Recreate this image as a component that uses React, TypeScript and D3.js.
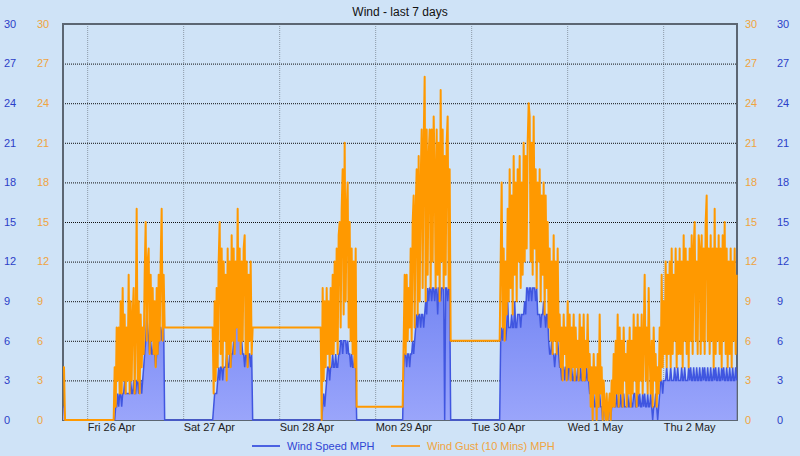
import React from "react";
import * as d3 from "d3";

// readings are archived every 15 minutes; each run below starts at its own time
const STEP_MIN = 15;

const yTicks = [0, 3, 6, 9, 12, 15, 18, 21, 24, 27, 30];
const dayTicks = ["2024-04-26", "2024-04-27", "2024-04-28", "2024-04-29", "2024-04-30", "2024-05-01", "2024-05-02"];
const dayLabels = ["Fri 26 Apr", "Sat 27 Apr", "Sun 28 Apr", "Mon 29 Apr", "Tue 30 Apr", "Wed 1 May", "Thu 2 May"];

// Thu evening, just before the station went quiet
const thuGust = [4, 4, 0];
const thuSpeed = [1, 1, 0];

// Fri 06:30 -> 19:15
const friGust = [
  0, 4, 1, 7, 3, 7, 2, 9, 2, 10,
  3, 8, 2, 7, 3, 11, 2, 9, 3, 8,
  10, 2, 7, 16, 3, 9, 2, 8, 4, 7,
  5, 11, 15, 6, 12, 13, 5, 11, 6, 10,
  5, 9, 4, 10, 5, 11, 6, 12, 16, 6,
  11, 7,
];
const friSpeed = [
  0, 0, 1, 1, 2, 1, 2, 2, 1, 2,
  2, 3, 2, 2, 2, 2, 2, 3, 2, 2,
  3, 2, 2, 3, 3, 2, 3, 3, 2, 3,
  4, 5, 6, 8, 7, 6, 5, 6, 5, 5,
  6, 5, 4, 5, 5, 6, 7, 7, 6, 7,
  7, 0,
];

// Sat 07:15 -> 17:15
const satGust = [
  7, 2, 9, 3, 10, 4, 12, 15, 5, 13,
  4, 12, 6, 11, 3, 13, 5, 12, 4, 14,
  6, 13, 5, 12, 7, 16, 6, 13, 5, 12,
  6, 13, 14, 5, 12, 4, 11, 6, 12, 5,
  7,
];
const satSpeed = [
  0, 1, 2, 2, 2, 3, 4, 3, 4, 4,
  3, 4, 4, 4, 5, 4, 4, 5, 4, 5,
  5, 6, 7, 7, 8, 8, 7, 8, 7, 6,
  5, 5, 4, 5, 5, 4, 5, 5, 4, 5,
  0,
];

// Sun 10:15 -> 19:15
const sunGust = [
  7, 0, 10, 3, 9, 4, 10, 5, 9, 4,
  10, 5, 11, 5, 12, 6, 13, 5, 14, 15,
  7, 16, 19, 8, 21, 9, 16, 18, 7, 15,
  6, 13, 5, 12, 4, 13, 1,
];
const sunSpeed = [
  0, 0, 1, 2, 1, 2, 3, 4, 4, 3,
  4, 4, 5, 4, 4, 5, 4, 4, 5, 5,
  6, 6, 5, 6, 6, 6, 5, 6, 5, 5,
  4, 5, 4, 4, 5, 4, 0,
];

// Mon 06:45 -> 18:45
const monGust = [
  1, 6, 11, 5, 11, 6, 10, 7, 13, 6,
  15, 17, 7, 16, 19, 8, 20, 9, 18, 22,
  10, 21, 26, 9, 22, 11, 20, 22, 10, 22,
  12, 23, 19, 10, 22, 11, 21, 9, 25, 12,
  22, 10, 20, 11, 21, 23, 10, 19, 6,
];
const monSpeed = [
  0, 4, 5, 5, 4, 5, 5, 4, 5, 5,
  6, 5, 6, 7, 8, 7, 8, 8, 7, 8,
  8, 7, 8, 9, 8, 10, 9, 10, 10, 9,
  10, 10, 9, 10, 10, 8, 10, 10, 9, 10,
  10, 10, 0, 10, 10, 9, 10, 10, 0,
];

// Tue 07:00 -> Thu 18:15, no gap
const tueGust = [
  6, 12, 18, 7, 13, 6, 12, 8, 16, 9,
  19, 10, 17, 8, 20, 11, 18, 9, 19, 12,
  20, 10, 18, 11, 21, 12, 20, 13, 21, 24,
  23, 12, 21, 11, 23, 13, 19, 10, 18, 12,
  19, 9, 17, 11, 18, 8, 17, 10, 15, 7,
  13, 6, 12, 5, 14, 6, 12, 5, 13, 6,
  8, 4, 7, 3, 8, 5, 7, 3, 9, 4,
  8, 3, 7, 4, 8, 3, 7, 4, 6, 3,
  8, 4, 7, 3, 8, 3, 6, 4, 8, 3,
  5, 1, 4, 0, 5, 2, 4, 0, 5, 1,
  8, 2, 4, 0, 3, 1, 0, 2, 0, 1,
  2, 0, 3, 1, 5, 1, 6, 2, 8, 1,
  7, 2, 6, 1, 7, 3, 5, 1, 6, 2,
  7, 1, 6, 2, 8, 3, 7, 1, 8, 2,
  7, 3, 8, 2, 6, 11, 3, 7, 2, 10,
  5, 2, 6, 1, 7, 3, 5, 1, 4, 2,
  7, 3, 11, 4, 9, 5, 12, 4, 11, 5,
  12, 4, 13, 5, 11, 6, 13, 4, 12, 5,
  13, 5, 12, 4, 14, 6, 13, 5, 12, 4,
  13, 6, 14, 5, 13, 15, 6, 12, 5, 14,
  13, 5, 14, 6, 13, 5, 15, 17, 6, 13,
  5, 14, 6, 13, 4, 16, 5, 13, 6, 14,
  5, 13, 4, 14, 6, 15, 5, 13, 4, 12,
  5, 13, 4, 12, 6, 13, 5, 11,
];
const tueSpeed = [
  0, 6, 7, 6, 7, 7, 6, 7, 9, 7,
  7, 7, 8, 7, 7, 9, 7, 7, 8, 8,
  8, 7, 8, 8, 8, 9, 8, 10, 10, 9,
  10, 10, 9, 10, 10, 10, 9, 10, 8, 8,
  8, 7, 8, 8, 9, 8, 7, 8, 8, 6,
  5, 5, 6, 5, 5, 4, 5, 5, 6, 5,
  4, 4, 3, 4, 4, 3, 4, 4, 3, 4,
  4, 3, 4, 3, 3, 4, 3, 3, 4, 3,
  3, 4, 3, 3, 4, 3, 3, 4, 3, 3,
  2, 2, 1, 2, 2, 1, 1, 2, 1, 1,
  2, 1, 1, 0, 1, 1, 0, 1, 0, 1,
  1, 0, 1, 1, 2, 1, 1, 2, 1, 1,
  1, 2, 1, 1, 2, 1, 1, 1, 2, 1,
  1, 2, 1, 1, 2, 2, 1, 1, 2, 1,
  2, 1, 1, 2, 1, 2, 1, 1, 2, 1,
  1, 2, 1, 0, 1, 1, 2, 1, 0, 1,
  2, 3, 3, 2, 3, 3, 3, 4, 3, 3,
  3, 4, 3, 3, 3, 4, 3, 3, 4, 3,
  3, 3, 4, 3, 3, 4, 3, 3, 3, 4,
  3, 4, 3, 3, 4, 3, 3, 4, 3, 3,
  4, 3, 3, 4, 3, 4, 3, 3, 4, 3,
  3, 4, 3, 3, 4, 3, 4, 3, 3, 4,
  3, 3, 4, 3, 4, 3, 3, 4, 3, 3,
  4, 3, 3, 4, 3, 3, 4, 3,
];

const runs = [
  { start: "2024-04-25T17:50", gust: thuGust, speed: thuSpeed },
  { start: "2024-04-26T06:30", gust: friGust, speed: friSpeed },
  { start: "2024-04-27T07:15", gust: satGust, speed: satSpeed },
  { start: "2024-04-28T10:15", gust: sunGust, speed: sunSpeed },
  { start: "2024-04-29T06:45", gust: monGust, speed: monSpeed },
  { start: "2024-04-30T07:00", gust: tueGust, speed: tueSpeed },
];

type Reading = { t: Date; gust: number; speed: number };

const readings: Reading[] = runs.flatMap((run) => {
  const t0 = new Date(run.start).getTime();
  return run.gust.map((g, i) => ({
    t: new Date(t0 + i * STEP_MIN * 60000),
    gust: g,
    speed: run.speed[i],
  }));
});

const FONT = "'Liberation Sans', Arial, Helvetica, sans-serif";
const BLUE_TEXT = "#2c40c8";
const ORANGE_TEXT = "#f0a440";

export default function App() {
  const W = 800;
  const H = 456;
  const left = 63, right = 737, top = 24, bottom = 420;

  const x = d3
    .scaleTime()
    .domain([new Date("2024-04-25T17:50"), new Date("2024-05-02T18:20")])
    .range([left, right]);
  const y = d3.scaleLinear().domain([0, 30]).range([bottom, top]);

  const speedArea = d3
    .area<Reading>()
    .x((d) => x(d.t))
    .y0(y(0))
    .y1((d) => y(d.speed));
  const speedLine = d3
    .line<Reading>()
    .x((d) => x(d.t))
    .y((d) => y(d.speed));
  const gustLine = d3
    .line<Reading>()
    .x((d) => x(d.t))
    .y((d) => y(d.gust));

  const days = dayTicks.map((d) => new Date(d + "T00:00"));

  return (
    <svg
      width={W}
      height={H}
      style={{ position: "fixed", left: 0, top: 0, fontFamily: FONT }}
    >
      <defs>
        <linearGradient id="speedFill" gradientUnits="userSpaceOnUse" x1="0" y1={y(10)} x2="0" y2={y(0)}>
          <stop offset="0" stopColor="#7486f3" />
          <stop offset="1" stopColor="#9aa5fb" />
        </linearGradient>
      </defs>
      <rect width={W} height={H} fill="#cfe3f7" />

      <text x={W / 2} y={16} textAnchor="middle" fontSize={12} fill="#111">
        Wind - last 7 days
      </text>

      {/* grid */}
      {days.map((d, i) => (
        <line
          key={"v" + i}
          x1={x(d)}
          x2={x(d)}
          y1={top}
          y2={bottom}
          stroke="#8d9aa8"
          strokeDasharray="1 1"
        />
      ))}
      {yTicks.slice(1, -1).map((v) => (
        <line
          key={"h" + v}
          x1={left}
          x2={right}
          y1={y(v) + 0.5}
          y2={y(v) + 0.5}
          stroke="#111"
          strokeDasharray="1 1"
        />
      ))}

      <rect
        x={left}
        y={top}
        width={right - left}
        height={bottom - top}
        fill="none"
        stroke="#5c6672"
        strokeWidth={2}
      />

      {/* wind speed */}
      <path d={speedArea(readings) ?? ""} fill="url(#speedFill)" />
      <path d={speedLine(readings) ?? ""} fill="none" stroke="#4056e0" strokeWidth={1.5} />

      {/* gusts */}
      <path
        d={gustLine(readings) ?? ""}
        fill="none"
        stroke="#ff9900"
        strokeWidth={2}
        strokeLinejoin="round"
      />

      {/* y labels, both sides */}
      {yTicks.map((v) => (
        <g key={"y" + v} fontSize={11}>
          <text x={4} y={y(v)} dy="0.35em" fill={BLUE_TEXT}>{v}</text>
          <text x={37} y={y(v)} dy="0.35em" fill={ORANGE_TEXT}>{v}</text>
          <text x={745} y={y(v)} dy="0.35em" fill={ORANGE_TEXT}>{v}</text>
          <text x={777} y={y(v)} dy="0.35em" fill={BLUE_TEXT}>{v}</text>
        </g>
      ))}

      {/* day labels */}
      {days.map((d, i) => (
        <text key={"d" + i} x={x(d)} y={431} fontSize={11} fill="#222">
          {dayLabels[i]}
        </text>
      ))}

      {/* legend */}
      <line x1={252} x2={280} y1={446} y2={446} stroke="#4b62e2" strokeWidth={2} />
      <text x={287} y={450} fontSize={11} fill="#2f45d4">Wind Speed MPH</text>
      <line x1={391} x2={420} y1={446} y2={446} stroke="#f4a43a" strokeWidth={2} />
      <text x={427} y={450} fontSize={11} fill={ORANGE_TEXT}>Wind Gust (10 Mins) MPH</text>
    </svg>
  );
}
